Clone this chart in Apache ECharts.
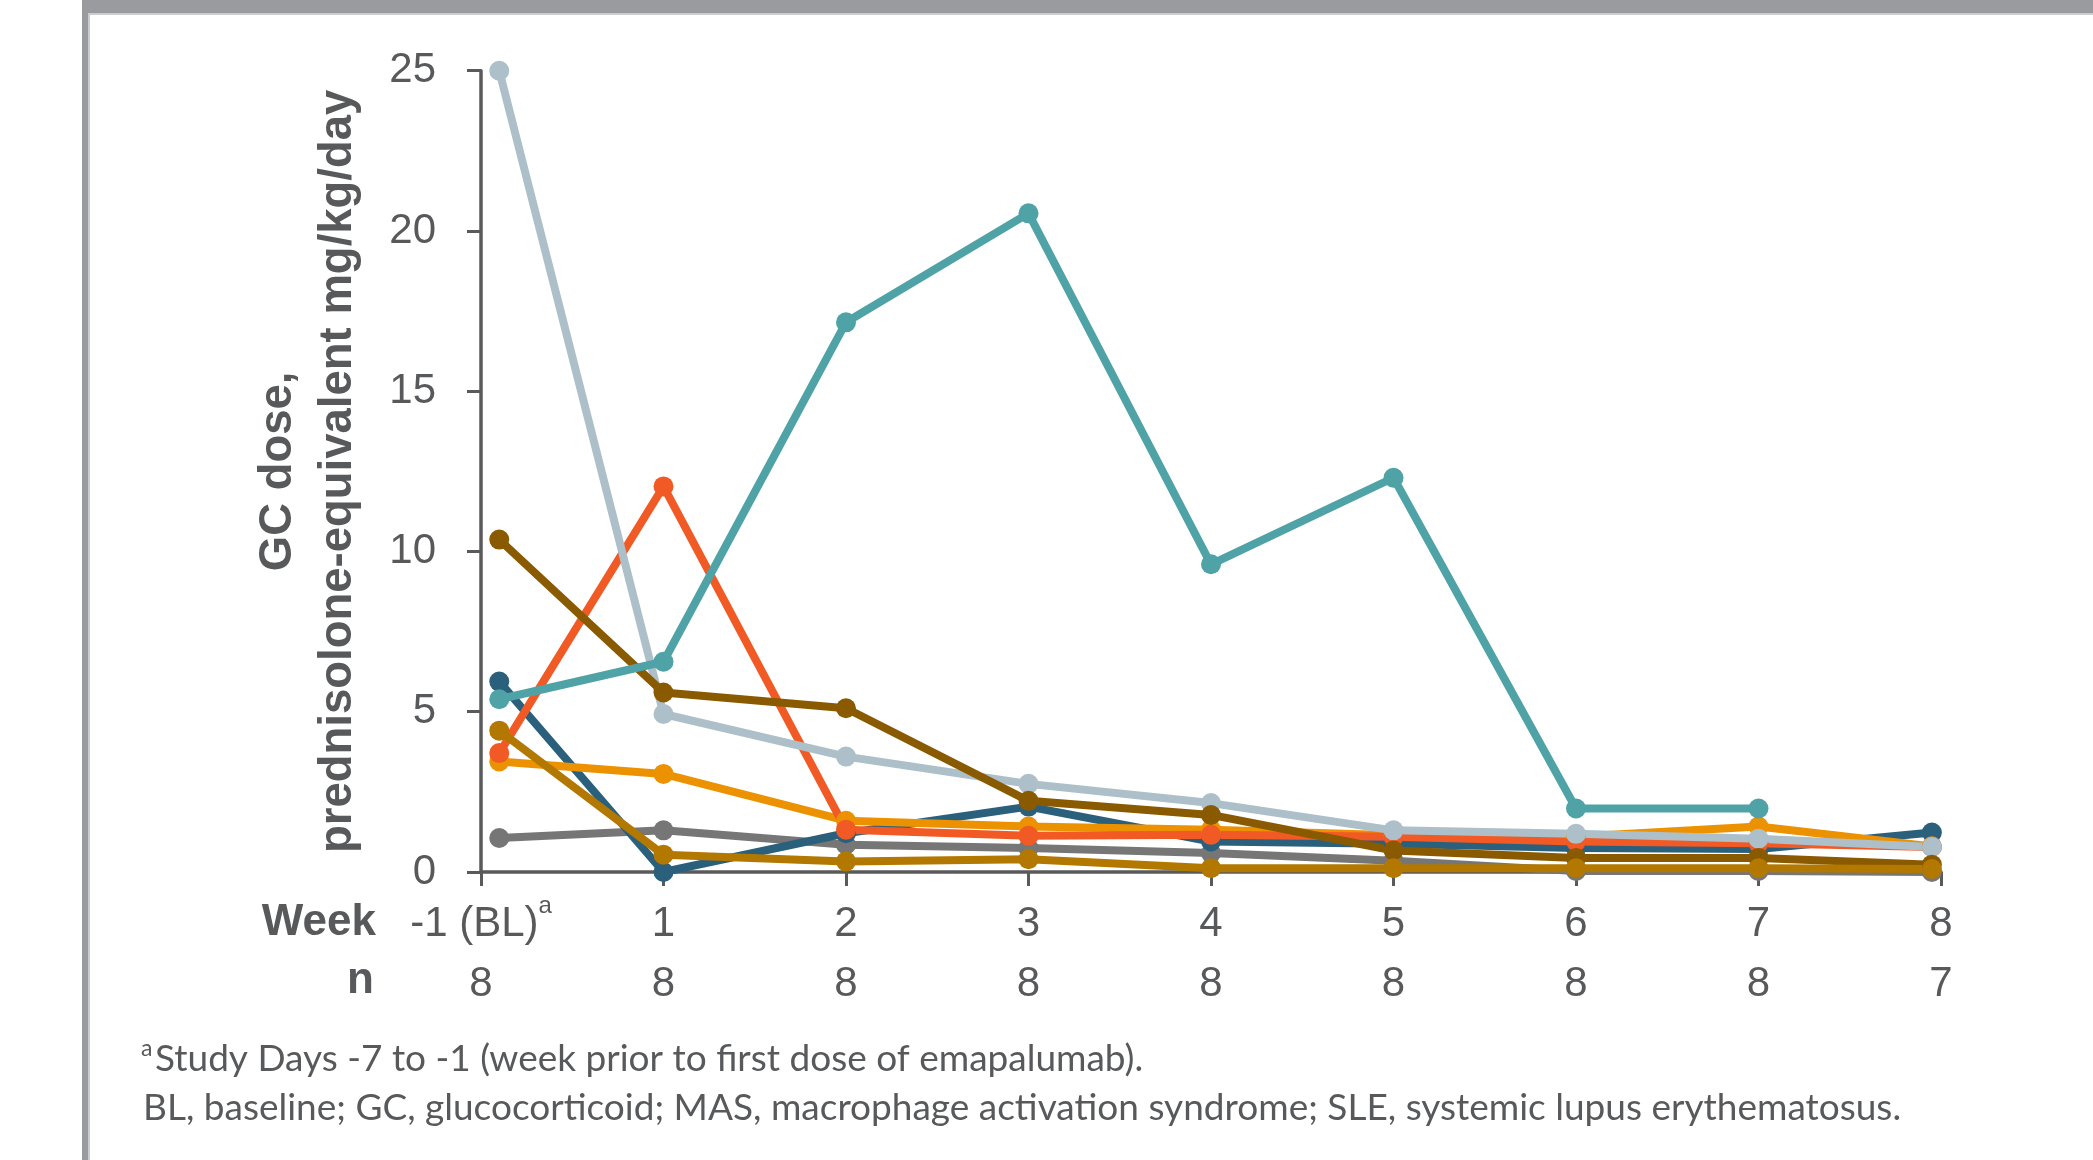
<!DOCTYPE html>
<html><head><meta charset="utf-8">
<script src="https://cdn.jsdelivr.net/npm/echarts@6.0.0/dist/echarts.min.js"></script>
<style>html,body{margin:0;padding:0;background:#fff}#c{width:2093px;height:1160px}</style>
</head><body><div id="c"></div>
<script>
// ---- data ----
const weekLabels = ['-1 (BL)', '1', '2', '3', '4', '5', '6', '7', '8'];
const nValues = [8, 8, 8, 8, 8, 8, 8, 8, 7];
const weekPos = [0.1, 1, 2, 3, 4, 5, 6, 7, 7.95];
const yTicks = [0, 5, 10, 15, 20, 25];

const patientGray      = [1.06, 1.30, 0.85, 0.75, 0.59, 0.35, 0.03, 0.03, 0.0];
const patientDarkBlue  = [5.94, 0.0, 1.21, 2.04, 0.95, 0.88, 0.75, 0.72, 1.23];
const patientOrange    = [3.45, 3.06, 1.60, 1.42, 1.32, 1.15, 1.10, 1.42, 0.80];
const patientRed       = [3.71, 12.03, 1.32, 1.13, 1.16, 1.10, 0.95, 0.90, 0.78];
const patientLightBlue = [25.0, 4.93, 3.60, 2.75, 2.15, 1.30, 1.19, 1.04, 0.78];
const patientBrown     = [10.37, 5.60, 5.11, 2.22, 1.78, 0.67, 0.44, 0.44, 0.23];
const patientGold      = [4.41, 0.54, 0.33, 0.40, 0.12, 0.12, 0.12, 0.12, 0.09];
const patientTeal      = [5.39, 6.56, 17.15, 20.55, 9.60, 12.30, 1.98, 1.98, null];

const seriesDefs = [
  ['Patient 1', patientGray, '#767676'],
  ['Patient 2', patientDarkBlue, '#2b607c'],
  ['Patient 3', patientOrange, '#ec9200'],
  ['Patient 4', patientRed, '#f15a24'],
  ['Patient 5', patientLightBlue, '#adc0c9'],
  ['Patient 6', patientBrown, '#8a5a00'],
  ['Patient 7', patientGold, '#b37800'],
  ['Patient 8', patientTeal, '#4fa3a7']
];

const textColor = '#58595b';
const axisColor = '#5a5a5a';
const frameColor = '#9a9b9f';

const chart = echarts.init(document.getElementById('c'), null, {renderer: 'canvas'});

const series = seriesDefs.map(([name, vals, color]) => ({
  name: name,
  type: 'line',
  symbol: 'circle',
  symbolSize: 20,
  showSymbol: true,
  lineStyle: {width: 8, color: color},
  itemStyle: {color: color},
  emphasis: {disabled: true},
  data: vals.map((v, i) => v === null ? null : [weekPos[i], v]).filter(d => d !== null)
}));

const option = {
  backgroundColor: '#ffffff',
  animation: false,
  grid: {left: 481, right: 152, top: 70.7, bottom: 288, containLabel: false, outerBoundsMode: 'none'},
  xAxis: {
    type: 'value', min: 0, max: 8, interval: 1,
    axisLine: {show: true, lineStyle: {color: axisColor, width: 3.5}},
    axisTick: {show: true, length: 14, lineStyle: {color: axisColor, width: 3}},
    splitLine: {show: false},
    axisLabel: {
      margin: 22,
      formatter: function (v) {
        const i = Math.round(v);
        if (i === 0) return '{w|' + weekLabels[0] + '}{sup|a}\n{n|' + nValues[0] + '}';
        return '{w|' + weekLabels[i] + '}\n{n|' + nValues[i] + '}';
      },
      rich: {
        w: {fontSize: 42, lineHeight: 60, color: textColor, fontFamily: 'Liberation Sans'},
        n: {fontSize: 42, lineHeight: 60, color: textColor, fontFamily: 'Liberation Sans'},
        sup: {fontSize: 24, lineHeight: 28, verticalAlign: 'top', color: textColor, fontFamily: 'Liberation Sans'}
      }
    }
  },
  yAxis: {
    type: 'value', min: 0, max: 25, interval: 5,
    axisLine: {show: true, lineStyle: {color: axisColor, width: 3.5}},
    axisTick: {show: true, length: 14, lineStyle: {color: axisColor, width: 3}},
    splitLine: {show: false},
    axisLabel: {margin: 45, fontSize: 42, color: textColor, fontFamily: 'Liberation Sans'},
    name: 'GC dose,\nprednisolone-equivalent mg/kg/day',
    nameLocation: 'middle',
    nameRotate: 90,
    nameGap: 113,
    nameTextStyle: {fontSize: 45.5, fontWeight: 'bold', lineHeight: 60, color: textColor, fontFamily: 'Liberation Sans'}
  },
  series: series,
  graphic: [
    {type: 'rect', left: 82, top: 0, shape: {width: 2011, height: 13}, style: {fill: frameColor}, silent: true},
    {type: 'rect', left: 88, top: 13, shape: {width: 2005, height: 2}, style: {fill: '#cbcccf'}, silent: true},
    {type: 'rect', left: 82, top: 0, shape: {width: 6, height: 1160}, style: {fill: frameColor}, silent: true},
    {type: 'rect', left: 88, top: 13, shape: {width: 2, height: 1147}, style: {fill: '#cbcccf'}, silent: true},
    {type: 'text', x: 376, y: 923, style: {text: 'Week', fill: textColor, font: 'bold 44px "Liberation Sans"', textAlign: 'right', textVerticalAlign: 'middle'}},
    {type: 'text', x: 374, y: 981, style: {text: 'n', fill: textColor, font: 'bold 44px "Liberation Sans"', textAlign: 'right', textVerticalAlign: 'middle'}},
    {type: 'text', x: 141, y: 1049, style: {text: 'a', fill: textColor, font: '23px Lato', textAlign: 'left', textVerticalAlign: 'middle'}},
    {type: 'text', x: 155, y: 1059, style: {text: 'Study Days -7 to -1 (week prior to first dose of emapalumab).', fill: textColor, font: '37px Lato', textAlign: 'left', textVerticalAlign: 'middle'}},
    {type: 'text', x: 143, y: 1108, style: {text: 'BL, baseline; GC, glucocorticoid; MAS, macrophage activation syndrome; SLE, systemic lupus erythematosus.', fill: textColor, font: '37px Lato', textAlign: 'left', textVerticalAlign: 'middle'}}
  ]
};
chart.setOption(option);
</script>
</body></html>
